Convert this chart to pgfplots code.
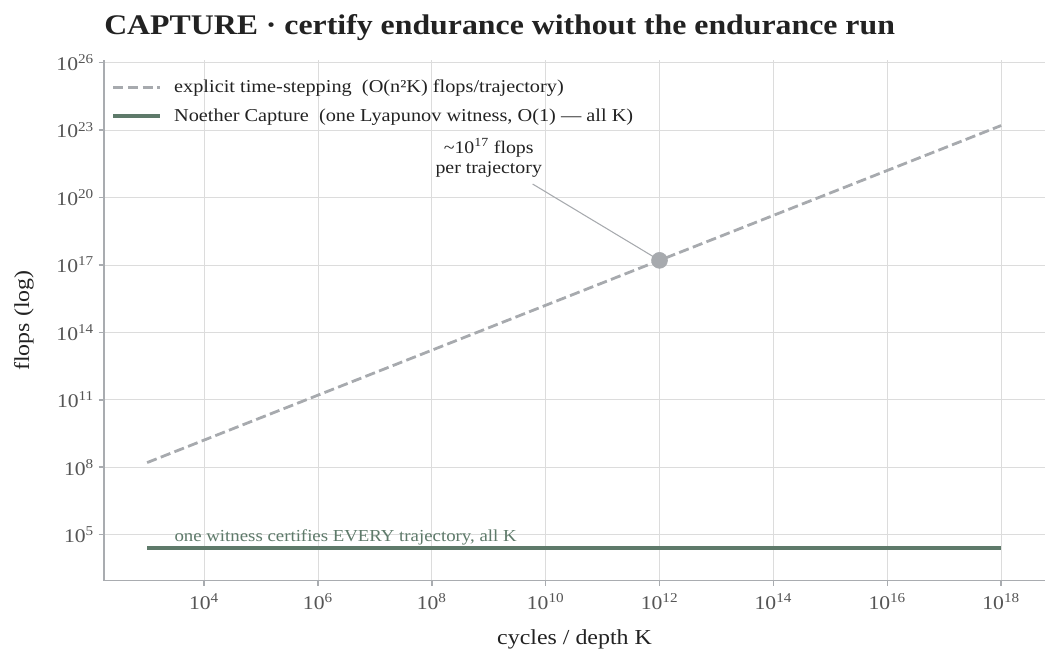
\documentclass[border=0pt]{standalone}
\usepackage{fontspec}
\setmainfont{Liberation Serif}[FakeStretch=1.12]
\usepackage{pgfplots}
\pgfplotsset{compat=1.18}
\definecolor{dashgray}{HTML}{A7AAAE}
\definecolor{capgreen}{HTML}{5E7A6A}
\definecolor{gridgray}{HTML}{DCDCDC}
\definecolor{spinegray}{HTML}{A9ACB0}
\definecolor{ticktext}{HTML}{555555}
\definecolor{labeltext}{HTML}{222222}
\begin{document}
\begin{tikzpicture}[x=1pt,y=1pt]
\path[use as bounding box] (-78,-64) rectangle (715.5,435.5);
\begin{axis}[
  at={(0,0)}, anchor=south west, scale only axis,
  width=705.75pt, height=390.15pt,
  xmode=log, ymode=log,
  xmin=1.75e2, xmax=5.9e18, ymin=891, ymax=1.26e26,
  axis x line*=bottom, axis y line*=left,
  axis line style={spinegray, line width=1.1pt},
  xtick={1e4,1e6,1e8,1e10,1e12,1e14,1e16,1e18},
  xticklabels={10\textsuperscript{4},10\textsuperscript{6},10\textsuperscript{8},10\textsuperscript{10},10\textsuperscript{12},10\textsuperscript{14},10\textsuperscript{16},10\textsuperscript{18}},
  ytick={1e5,1e8,1e11,1e14,1e17,1e20,1e23,1e26},
  yticklabels={10\textsuperscript{5},10\textsuperscript{8},10\textsuperscript{11},10\textsuperscript{14},10\textsuperscript{17},10\textsuperscript{20},10\textsuperscript{23},10\textsuperscript{26}},
  xminorticks=false, yminorticks=false,
  tick align=outside, major tick length=4pt,
  tick style={spinegray, line width=1.1pt},
  grid=major, major grid style={gridgray, line width=0.6pt},
  tick label style={ticktext, font=\fontsize{14.5}{14.5}\selectfont},
  xticklabel style={yshift=-2pt},
  xlabel={cycles / depth K},
  xlabel style={at={(axis description cs:0.5,0)}, anchor=base, yshift=-48pt, labeltext, font=\fontsize{16}{16}\selectfont},
  ylabel={flops (log)},
  ylabel style={at={(axis description cs:0,0.5)}, anchor=center, yshift=60pt, labeltext, font=\fontsize{16}{16}\selectfont},
  legend style={draw=none, fill=none, at={(axis description cs:0,1)}, anchor=north west, xshift=2pt, yshift=-10.5pt,
    font=\fontsize{13.6}{13.6}\selectfont, text=labeltext, row sep=6.5pt},
  legend cell align=left,
  legend image code/.code={\draw[#1] (0pt,0pt) -- (35pt,0pt); \path (42pt,0pt);},
  clip=false,
]
\addplot[dashgray, line width=2.1pt, dash pattern=on 7.7pt off 3.3pt] coordinates {(1e3,1.6e8) (1e6,1.6e11) (1e9,1.6e14) (1e12,1.6e17) (1e15,1.6e20) (1e18,1.6e23)};
\addlegendentry{explicit time-stepping~ (O(n²K) flops/trajectory)}
\addplot[capgreen, line width=3.4pt] coordinates {(1e3,2.5e4) (1e18,2.5e4)};
\addlegendentry{Noether Capture~ (one Lyapunov witness, O(1) — all K)}
\draw[dashgray, line width=0.8pt] (axis cs:5.9e9,4e20) -- (axis cs:1e12,1.6e17);
\addplot[only marks, mark=*, mark size=6pt, dashgray, forget plot] coordinates {(1e12,1.6e17)};
\node[align=center, font=\fontsize{13.3}{15}\selectfont, text=labeltext] at (axis cs:1e9,5.8e21) {\textasciitilde10\textsuperscript{17} flops\\per trajectory};
\node[anchor=base west, inner sep=0pt, text=capgreen, font=\fontsize{12.6}{12.6}\selectfont] at (axis cs:3e3,4.7e4) {one witness certifies EVERY trajectory, all K};
\end{axis}
\node[anchor=base west, inner sep=0pt, font=\bfseries\fontsize{21.3}{21.3}\selectfont, text=labeltext] at (0,409.3) {CAPTURE · certify endurance without the endurance run};
\end{tikzpicture}
\end{document}
